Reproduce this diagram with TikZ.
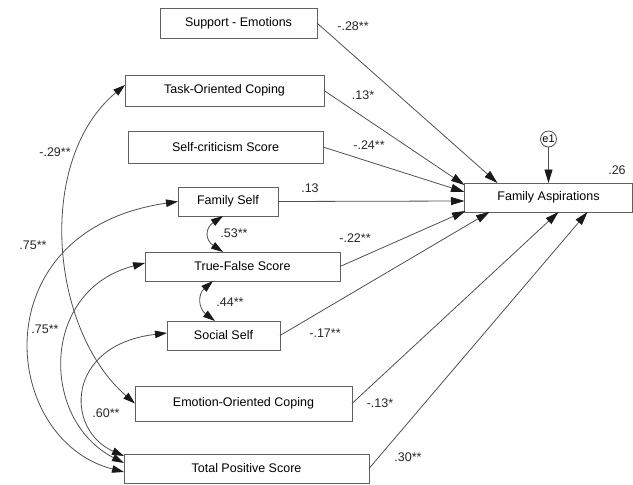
\documentclass[tikz,border=0pt]{standalone}
\usepackage{fontspec}
\setmainfont{Liberation Sans}
\usetikzlibrary{arrows.meta}
\definecolor{lc}{HTML}{505050}
\definecolor{bc}{HTML}{606060}
\begin{document}
\begin{tikzpicture}[x=1pt,y=-1pt,
  font=\fontsize{12.5}{14}\selectfont,
  box/.style={draw=bc,line width=0.9pt,inner sep=0pt,outer sep=0pt,fill=white},
  conn/.style={draw=lc,line width=0.8pt,-{Triangle[length=13.5pt,width=8pt,color=black!90]}},
  dconn/.style={draw=lc,line width=0.8pt,{Triangle[length=12pt,width=7.5pt,color=black!90]}-{Triangle[length=12pt,width=7.5pt,color=black!90]}},
  lab/.style={inner sep=0pt,text=black!85}]
\useasboundingbox (0,0) rectangle (633,485);
% boxes
\node[box,minimum width=157pt,minimum height=30pt] (SE) at (238.5,23) {Support - Emotions};
\node[box,minimum width=199pt,minimum height=31pt] (TO) at (224.5,90.5) {Task-Oriented Coping};
\node[box,minimum width=195pt,minimum height=32pt] (SC) at (225.5,147) {Self-criticism Score};
\node[box,minimum width=100pt,minimum height=29pt] (FS) at (228,201.5) {Family Self};
\node[box,minimum width=168pt,minimum height=29pt] (FA) at (548.5,197.5) {Family Aspirations};
\node[box,minimum width=195pt,minimum height=29pt] (TF) at (242.5,266.5) {True-False Score};
\node[box,minimum width=113pt,minimum height=29pt] (SS) at (223.5,335.5) {Social Self};
\node[box,minimum width=217pt,minimum height=35pt] (EO) at (243.5,403.5) {Emotion-Oriented Coping};
\node[box,minimum width=245pt,minimum height=29pt] (TP) at (246.5,468.5) {Total Positive Score};
\node[draw=lc,line width=0.8pt,circle,minimum size=16pt,inner sep=0pt,font=\fontsize{11}{12}\selectfont] (e1) at (548.5,139) {e1};
% straight paths
\draw[conn] (SE.east) -- ([xshift=33pt]FA.north west);
\draw[conn] (TO.east) -- ([yshift=-2pt]FA.north west);
\draw[conn] (SC.east) -- ([yshift=5.5pt]FA.west);
\draw[conn] (FS.east) -- ([yshift=-3.5pt]FA.west);
\draw[conn] (TF.east) -- ([xshift=1pt,yshift=1pt]FA.south west);
\draw[conn] (SS.east) -- ([xshift=25pt]FA.south west);
\draw[conn] (EO.east) -- ([xshift=94pt]FA.south west);
\draw[conn] (TP.east) -- ([xshift=123pt]FA.south west);
\draw[conn] (e1) -- (FA.north);
% covariances
\draw[dconn] ([yshift=5.5pt]TO.west) .. controls (35,160) and (50,330) .. (EO.west);
\draw[dconn] (FS.west) .. controls (-20,230) and (0,440) .. ([yshift=-3.5pt]TP.west);
\draw[dconn] ([yshift=3.5pt]TF.west) .. controls (40,290) and (40,420) .. ([yshift=5.5pt]TP.west);
\draw[dconn] ([yshift=2.5pt]SS.west) .. controls (65,345) and (65,430) .. ([yshift=12.5pt]TP.west);
\draw[dconn] ([xshift=-5pt]FS.south) .. controls (205,228) and (205,240) .. ([xshift=-19.5pt]TF.north);
\draw[dconn] ([xshift=-29.5pt]TF.south) .. controls (198,294) and (198,308) .. ([xshift=-8.5pt]SS.north);
% labels
\node[lab] (l1) at (353,26) {-.28**};
\node[lab] (l2) at (363,95) {.13*};
\node[lab] (l3) at (369,145) {-.24**};
\node[lab] (l4) at (310,188) {.13};
\node[lab] (l5) at (355,238) {-.22**};
\node[lab] (l6) at (325,333) {-.17**};
\node[lab] (l7) at (380,403) {-.13*};
\node[lab] (l8) at (408,457) {.30**};
\node[lab] (l9) at (55,152) {-.29**};
\node[lab] (l10) at (33,245) {.75**};
\node[lab] (l11) at (45,329) {.75**};
\node[lab] (l12) at (106,413) {.60**};
\node[lab] (l13) at (234,233) {.53**};
\node[lab] (l14) at (230,302) {.44**};
\node[lab] (l15) at (617,170) {.26};
\end{tikzpicture}
\end{document}
